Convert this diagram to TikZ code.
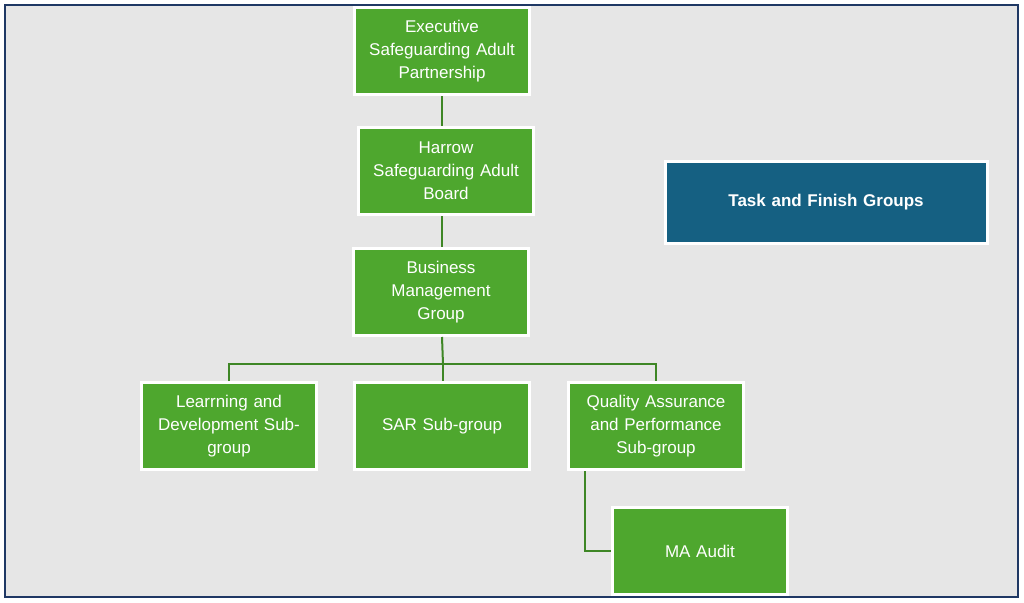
\documentclass[tikz,border=0pt]{standalone}
\usepackage{fontspec}
\setmainfont{Liberation Sans}
\usepackage{tikz}
\usetikzlibrary{positioning}
\definecolor{boxgreen}{HTML}{4EA72E}
\definecolor{taskblue}{HTML}{156082}
\definecolor{framecol}{HTML}{1F3864}
\definecolor{bggray}{HTML}{E6E6E6}
\tikzset{
  grp/.style={draw=white,line width=3pt,fill=boxgreen,text=white,minimum width=175pt,
    minimum height=87pt,align=center,text width=172pt,inner sep=0pt,
    font=\fontsize{17}{23}\selectfont},
  link/.style={draw=boxgreen!80!black,line width=2pt}
}
\begin{document}
\begin{tikzpicture}[x=1pt,y=-1pt]
\useasboundingbox (0,0) rectangle (1024,602);
\draw [framecol,fill=bggray,line width=1.5pt] (5,5) rectangle (1018,597);

\node [grp] (exec) at(442,51){Executive\\Safeguarding Adult\\Partnership};
\node [grp] (harrow) at(446,171){Harrow\\Safeguarding Adult\\Board};
\node [grp] (bmg) at(441,292){Business\\Management\\Group};
\node [grp] (learn) at(229,426){Learrning and\\Development Sub-\\group};
\node [grp] (sar) at(442,426){SAR Sub-group};
\node [grp] (qa) at(656,426){Quality Assurance\\and Performance\\Sub-group};
\node [grp] (ma) at(700,551){MA Audit};
\node [grp,fill=taskblue,minimum width=322pt,text width=320pt,minimum height=82pt,
  font=\fontsize{17}{23}\selectfont\bfseries] (task) at(826,202){Task and Finish Groups};

\coordinate (split) at (443,364);
\draw [link] (exec.south) -- (harrow.north -| exec.south);
\draw [link] (harrow.south -| exec.south) -- (bmg.north -| exec.south);
\draw [link] (bmg.south -| exec.south) -- (split);
\draw [link] (learn.north) |- (split) -| (qa.north);
\draw [link] (split) -- (sar.north -| split);
\draw [link] (qa.south -| 585,0) |- (ma.west);
\end{tikzpicture}
\end{document}
